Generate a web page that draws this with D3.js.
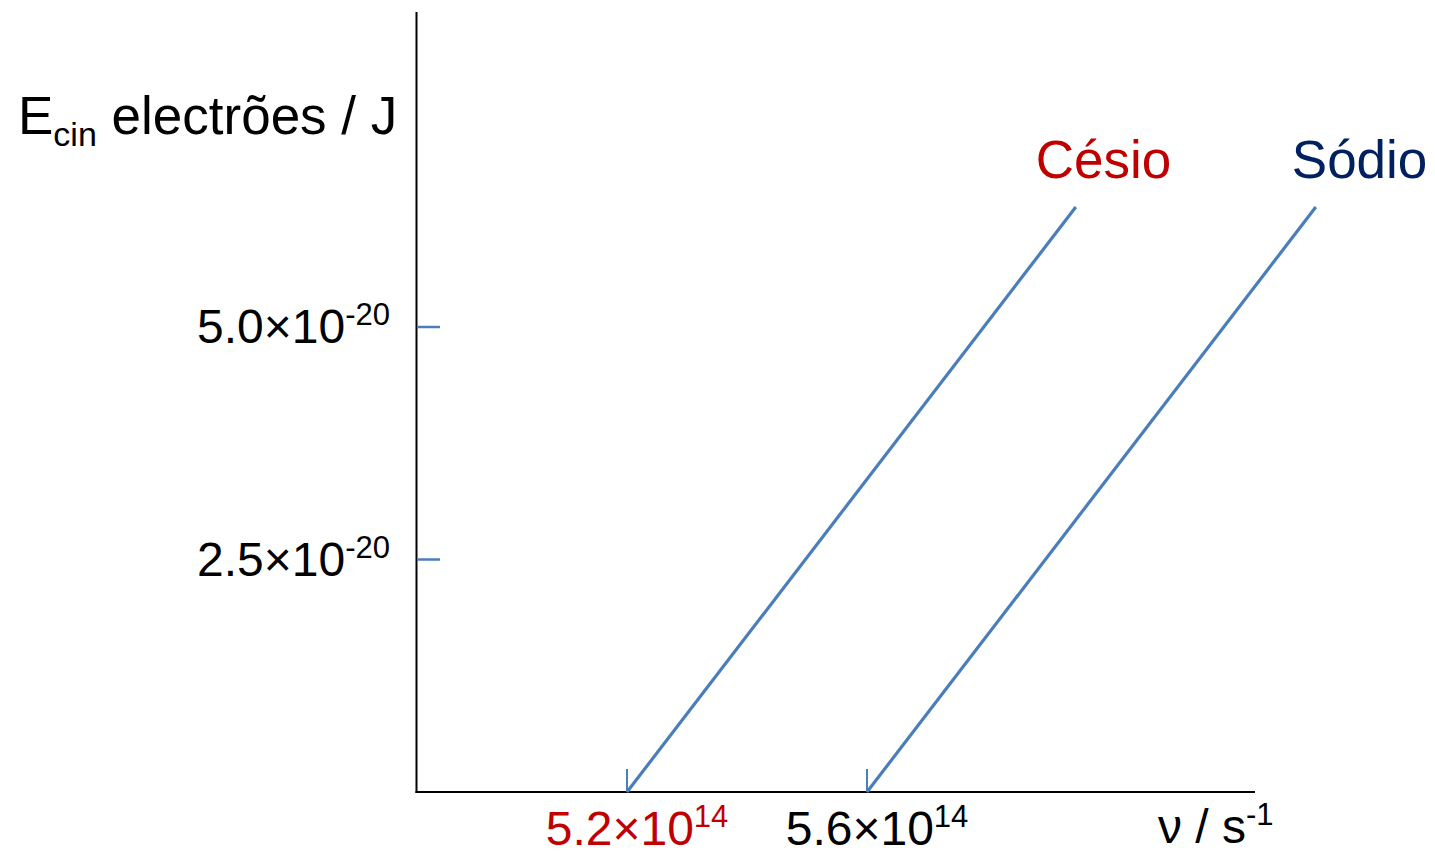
<!DOCTYPE html>
<html>
<head>
<meta charset="utf-8">
<script src="https://cdn.jsdelivr.net/npm/d3@7"></script>
<style>
  html, body { margin: 0; padding: 0; background: #fff; }
  svg { display: block; font-family: "Liberation Sans", Arial, sans-serif; }
</style>
</head>
<body>
<svg id="chart" width="1435" height="854"></svg>
<script>
// ---- data ----
const metals = ["Césio", "Sódio"];
const thresholdFreq = [5.2e14, 5.6e14];          // s^-1, E = 0
const endFreq = [5.948e14, 6.348e14];            // s^-1, top of drawn line
const endEnergy = [6.29e-20, 6.29e-20];          // J at top of drawn line
const metalColors = ["#C00000", "#002060"];
const yTickValues = [2.5e-20, 5.0e-20];
const yTickMantissa = ["2.5", "5.0"];
const yTickExp = ["-20", "-20"];
const xTickValues = [5.2e14, 5.6e14];
const xTickMantissa = ["5.2", "5.6"];
const xTickExp = ["14", "14"];
const xTickColors = ["#C00000", "#000000"];

// ---- scales ----
const x = d3.scaleLinear().domain([5.2e14, 5.6e14]).range([627, 867]);
const y = d3.scaleLinear().domain([0, 5.0e-20]).range([792, 327]);

const svg = d3.select("#chart");
const axisLeftX = 416.5;
const axisRightX = 1255;
const axisTopY = 12;
const lineBlue = "#4A7EBB";
const labelDx = [-40, -24];   // label start offset from line end (px)

// axes
svg.append("line").attr("x1", axisLeftX).attr("x2", axisLeftX)
  .attr("y1", axisTopY).attr("y2", y(0) + 1)
  .attr("stroke", "#000").attr("stroke-width", 2);
svg.append("line").attr("x1", axisLeftX - 1).attr("x2", axisRightX)
  .attr("y1", y(0)).attr("y2", y(0))
  .attr("stroke", "#000").attr("stroke-width", 2);

// y ticks
const yt = svg.append("g").selectAll("g").data(yTickValues).join("g")
  .attr("transform", d => `translate(0,${y(d)})`);
yt.append("line").attr("x1", axisLeftX + 1).attr("x2", 440)
  .attr("stroke", lineBlue).attr("stroke-width", 2.5);
const ytText = yt.append("text").attr("x", 390).attr("y", 16)
  .attr("text-anchor", "end").attr("font-size", 48).attr("fill", "#000");
ytText.append("tspan").text((d, i) => yTickMantissa[i] + "×10");
ytText.append("tspan").attr("dy", -18).attr("font-size", 31).text((d, i) => yTickExp[i]);

// x ticks
const xt = svg.append("g").selectAll("g").data(xTickValues).join("g")
  .attr("transform", d => `translate(${x(d)},${y(0)})`);
xt.append("line").attr("y1", 0).attr("y2", -23)
  .attr("stroke", lineBlue).attr("stroke-width", 2);
const xtText = xt.append("text").attr("x", 10).attr("y", 53)
  .attr("text-anchor", "middle").attr("font-size", 48)
  .attr("fill", (d, i) => xTickColors[i]);
xtText.append("tspan").text((d, i) => xTickMantissa[i] + "×10");
xtText.append("tspan").attr("dy", -18).attr("font-size", 31).text((d, i) => xTickExp[i]);

// data lines
const lineGen = d3.line().x(d => x(d[0])).y(d => y(d[1]));
const series = metals.map((m, i) => ({
  name: m, color: metalColors[i],
  pts: [[thresholdFreq[i], 0], [endFreq[i], endEnergy[i]]]
}));
svg.append("g").selectAll("path").data(series).join("path")
  .attr("d", d => lineGen(d.pts))
  .attr("fill", "none").attr("stroke", lineBlue).attr("stroke-width", 3.2);

// series labels
svg.append("g").selectAll("text").data(series).join("text")
  .attr("x", (d, i) => x(d.pts[1][0]) + labelDx[i])
  .attr("y", 178)
  .attr("text-anchor", "start")
  .attr("font-size", 53)
  .attr("fill", d => d.color)
  .text(d => d.name);

// y axis title
const yTitle = svg.append("text").attr("x", 18).attr("y", 134)
  .attr("font-size", 53).attr("fill", "#000");
yTitle.append("tspan").text("E");
yTitle.append("tspan").attr("dy", 12).attr("font-size", 34).text("cin");
yTitle.append("tspan").attr("dy", -12).text(" electrões / J");

// x axis title
const xTitle = svg.append("text").attr("x", 1158).attr("y", 843)
  .attr("font-size", 48).attr("fill", "#000");
xTitle.append("tspan").text("ν / s");
xTitle.append("tspan").attr("dy", -18).attr("font-size", 31).text("-1");
</script>
</body>
</html>
